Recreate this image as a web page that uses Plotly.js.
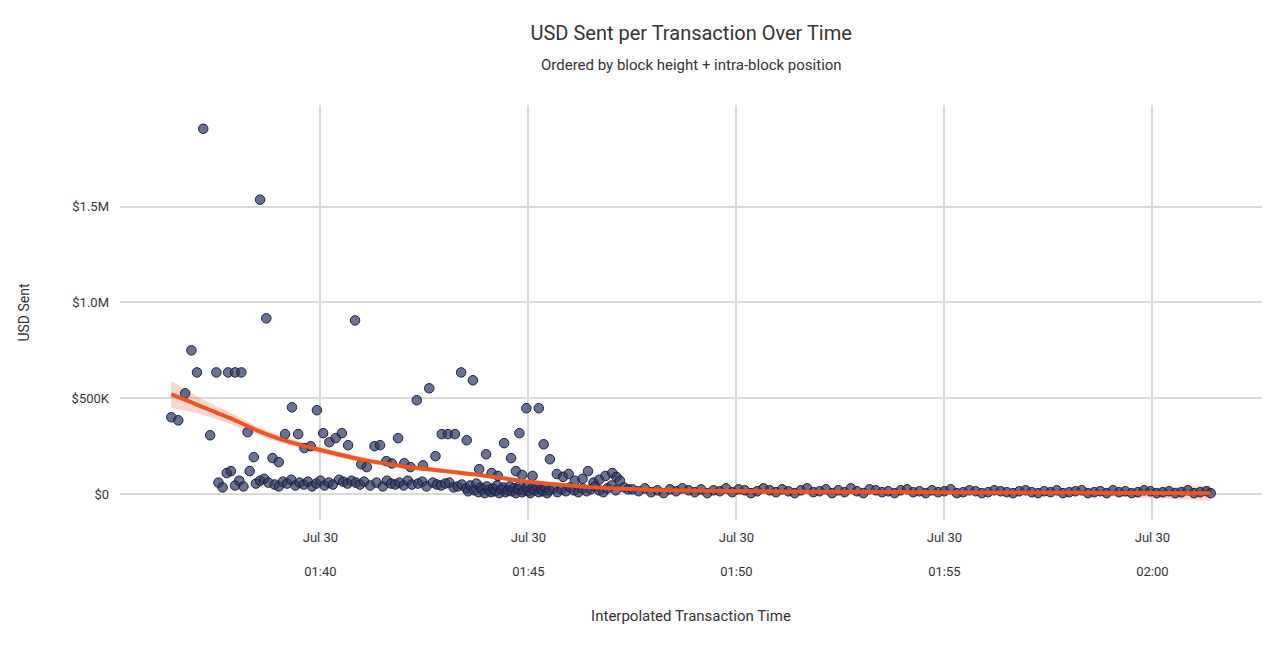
<!DOCTYPE html>
<html>
<head>
<meta charset="utf-8">
<script src="https://cdn.plot.ly/plotly-3.0.1.min.js"></script>
<style>body{margin:0;background:#fff}#chart{width:1280px;height:650px}</style>
</head>
<body>
<div id="chart"></div>
<script>
// minutes after 2024-07-30 01:36:00, values in USD thousands
const outT = [0.42,0.59,0.75,0.90,1.04,1.19,1.36,1.50,1.79,1.96,2.10,2.25,2.41,2.56,2.70,2.85,3.01,3.16,3.33,3.47,3.62,3.78,3.93,4.07,4.22,4.38,4.53,4.67,4.84,4.99,5.13,5.30,5.44,5.59,5.73,5.88,6.02,6.18,6.33,6.47,6.62,6.78,6.93,7.07,7.24,7.39,7.53,7.68,7.82,7.99,8.13,8.28,8.42,8.59,8.71,8.86,8.79,8.96,9.10,9.25,9.38,9.53,9.69,9.84,9.98,10.13,10.30,10.44,10.58,10.70,10.86,11.02,11.12,11.20]
const outV = [401,385,526,750,635,1906,307,635,635,635,635,323,193,1536,917,188,167,313,453,313,240,250,438,318,271,292,318,255,906,156,141,250,255,172,160,292,161,141,490,150,552,198,313,313,313,635,281,594,130,208,110,95,266,188,120,100,318,448,95,448,260,182,105,90,105,70,80,120,60,75,95,110,90,70]
const bandT = [1.55,1.65,1.75,1.85,1.95,2.05,2.15,2.30,2.45,2.55,2.65,2.75,2.90,3.00,3.10,3.20,3.30,3.40,3.50,3.60,3.70,3.80,3.90,4.00,4.10,4.20,4.30,4.45,4.55,4.65,4.75,4.85,4.95,5.05,5.20,5.35,5.50,5.60,5.70,5.80,5.90,6.00,6.10,6.20,6.35,6.45,6.55,6.70,6.80,6.90,7.00,7.10,7.20,7.30,7.40,7.50,7.55,7.60,7.70,7.75,7.80,7.85,7.90,7.95,8.00,8.05,8.10,8.15,8.20,8.25,8.30,8.35,8.40,8.45,8.50,8.55,8.60,8.65,8.70,8.75,8.80,8.85,8.90,8.95,9.00,9.05,9.10,9.15,9.20,9.25,9.30,9.35,9.40,9.45,9.50,9.60,9.70,9.80,9.90,10.00,10.10,10.20,10.30,10.40,10.50,10.60,10.70,10.80,10.90,11.00,11.10,11.30,11.40]
const bandV = [60,35,110,120,45,70,40,120,55,70,80,60,50,40,65,55,75,45,60,50,65,40,55,70,45,60,50,75,65,55,70,60,50,65,45,60,40,70,55,50,60,45,70,50,55,65,40,60,50,45,55,60,35,40,50,30,15,45,20,55,10,35,25,5,40,20,10,30,15,45,5,25,35,10,20,40,15,30,5,25,45,10,20,35,15,5,30,20,40,10,25,15,35,5,20,30,10,25,15,35,20,10,30,15,25,40,20,10,30,45,20,35,25]
const tailT = [11.50,11.65,11.80,11.95,12.10,12.25,12.40,12.55,12.70,12.85,13.00,13.15,13.30,13.45,13.60,13.75,13.90,14.05,14.20,14.35,14.50,14.65,14.80,14.95,15.10,15.25,15.40,15.55,15.70,15.85,16.00,16.15,16.30,16.45,16.60,16.75,16.90,17.05,17.20,17.35,17.50,17.65,17.80,17.95,18.10,18.25,18.40,18.55,18.70,18.85,19.00,19.15,19.30,19.45,19.60,19.75,19.90,20.05,20.20,20.35,20.50,20.65,20.80,20.95,21.10,21.25,21.40,21.55,21.70,21.85,22.00,22.15,22.30,22.45,22.60,22.75,22.90,23.05,23.20,23.35,23.50,23.65,23.80,23.95,24.10,24.25,24.40,24.55,24.70,24.85,25.00,25.15,25.30,25.40]
const tailV = [25,15,30,10,20,5,25,15,30,20,10,25,5,20,15,30,10,25,20,5,15,30,20,10,25,15,5,20,30,10,15,25,5,20,10,30,15,5,25,20,10,15,5,20,25,10,15,5,20,10,15,25,5,10,20,15,5,10,20,15,10,5,15,20,10,5,15,10,20,5,10,15,20,5,10,15,5,20,10,15,5,10,20,15,5,10,15,5,10,20,5,10,15,5]
// smoothed fit and its confidence band (USD thousands)
const fitT = [0.42,1.0,1.5,2.0,2.5,3.0,4.0,5.0,6.0,7.0,8.0,9.0,10.0,11.0,12.0,14.0,16.0,18.0,20.0,22.0,24.0,25.4]
const fitV = [520,470,425,380,330,290,230,180,145,120,95,65,45,30,22,16,13,11,9,8,6,5]
const fitLo = [450,425,392,352,308,270,213,166,133,108,84,55,36,21,13,8,6,4,1,-4,-20,-35]
const fitHi = [590,515,458,408,352,310,247,194,157,132,106,75,54,39,31,24,20,18,17,20,32,45]
const tickMin = [4, 9, 14, 19, 24]
const tickText = ['01:40', '01:45', '01:50', '01:55', '02:00']

const base = Date.UTC(2024, 6, 30, 1, 36, 0)
const toDate = m => new Date(base + m * 60000).toISOString().replace('T', ' ').slice(0, 19)
const k = v => v * 1000

const allT = outT.concat(bandT, tailT).map(toDate)
const allV = outV.concat(bandV, tailV).map(k)
const fx = fitT.map(toDate)

const traces = [
  { x: fx, y: fitLo.map(k), mode: 'lines', line: { width: 0, shape: 'spline' }, hoverinfo: 'skip', showlegend: false },
  { x: fx, y: fitHi.map(k), mode: 'lines', line: { width: 0, shape: 'spline' }, fill: 'tonexty', fillcolor: 'rgba(242,120,80,0.3)', hoverinfo: 'skip', showlegend: false },
  { x: allT, y: allV, mode: 'markers', type: 'scatter',
    marker: { size: 9.5, color: 'rgba(45,55,100,0.7)', line: { color: '#1a1f3d', width: 1 } }, showlegend: false },
  { x: fx, y: fitV.map(k), mode: 'lines', line: { color: '#ee5424', width: 4, shape: 'spline' }, showlegend: false }
]

const layout = {
  width: 1280, height: 650,
  font: { family: 'Roboto, sans-serif', color: '#333', size: 13 },
  paper_bgcolor: '#fff', plot_bgcolor: '#fff',
  margin: { l: 120, r: 18, t: 105, b: 130 },
  title: {
    text: 'USD Sent per Transaction Over Time',
    font: { size: 20, color: '#333' }, x: 0.54, xanchor: 'center', y: 0.95, yanchor: 'middle'
  },
  annotations: [{
    text: 'Ordered by block height + intra-block position', font: { size: 15, color: '#333' },
    xref: 'paper', yref: 'paper', x: 0.5, y: 1.0964, xanchor: 'center', yanchor: 'middle', showarrow: false
  }],
  xaxis: {
    type: 'date', range: [toDate(-0.81), toDate(26.64)],
    tickvals: tickMin.map(toDate),
    ticktext: tickText.map(t => 'Jul 30<br><br>' + t),
    ticklabelstandoff: 8,
    gridcolor: '#d9d9d9', gridwidth: 1.5, zeroline: false, showline: false, ticks: '',
    title: { text: 'Interpolated Transaction Time', font: { size: 15 }, standoff: 32 }
  },
  yaxis: {
    range: [-135000, 2030000],
    tickvals: [0, 500000, 1000000, 1500000],
    ticktext: ['$0', '$500K', '$1.0M', '$1.5M'],
    gridcolor: '#d9d9d9', gridwidth: 1.5, zeroline: false, showline: false, ticks: '',
    ticklabelstandoff: 10,
    title: { text: 'USD Sent', font: { size: 14 }, standoff: 38 }
  }
}

Plotly.newPlot('chart', traces, layout, { displayModeBar: false })
</script>
</body>
</html>
